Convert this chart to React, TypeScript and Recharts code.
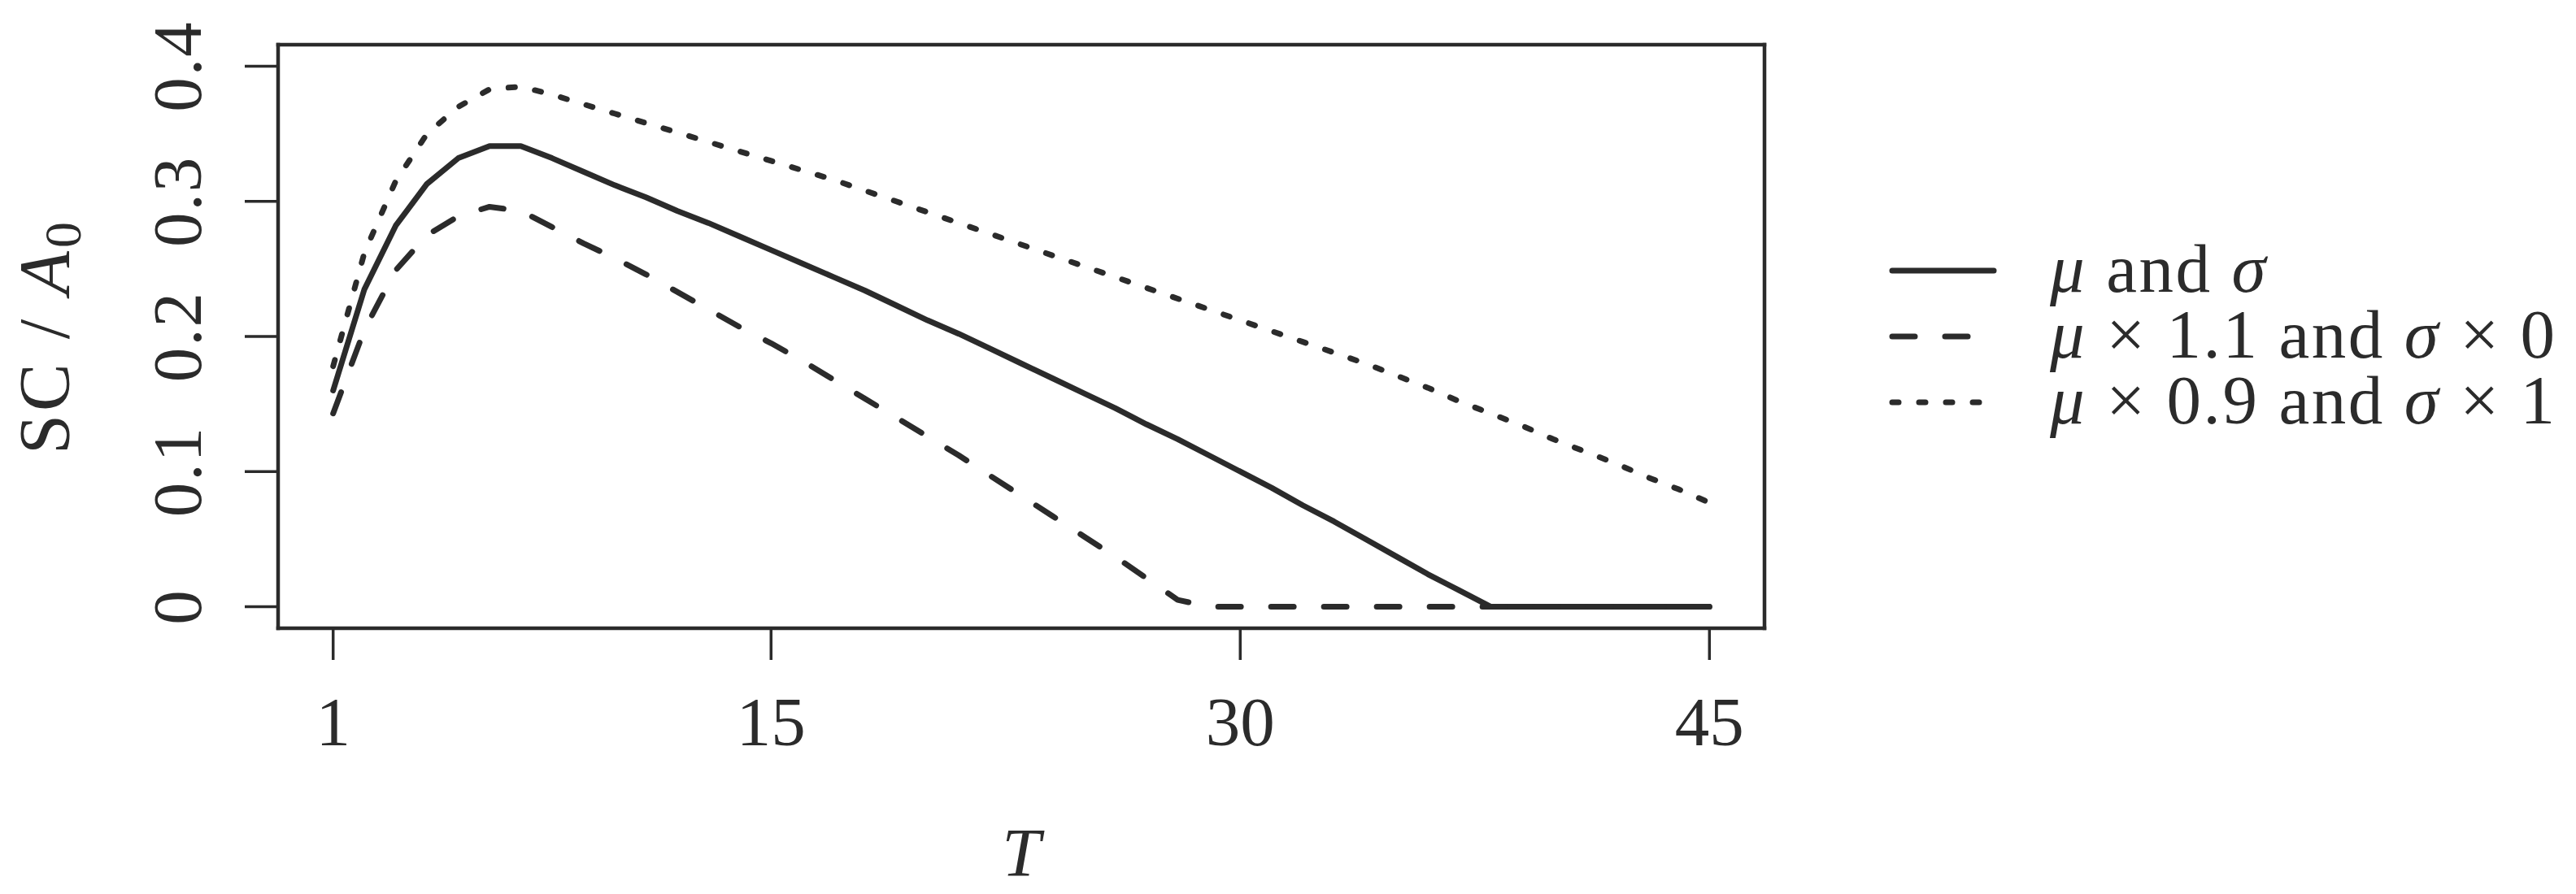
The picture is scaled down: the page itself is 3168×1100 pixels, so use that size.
import React from "react";
import { LineChart, Line, XAxis, YAxis, Legend } from "recharts";

const INK = "#2b2b2b";
const FONT = "'Liberation Serif', 'DejaVu Serif', serif";

// horizon T
const T = [
  1, 2, 3, 4, 5, 6, 7, 8, 9, 10, 11, 12, 13, 14, 15, 16, 17, 18, 19, 20, 21, 22,
  23, 24, 25, 26, 27, 28, 29, 30, 31, 32, 33, 34, 35, 36, 37, 38, 39, 40, 41, 42,
  43, 44, 45,
];

// SC / A0
const SC_BASE = [
  0.16, 0.235, 0.282, 0.313, 0.332, 0.341, 0.341, 0.332, 0.322, 0.312, 0.303,
  0.293, 0.284, 0.274, 0.264, 0.254, 0.244, 0.234, 0.223, 0.212, 0.202, 0.191,
  0.18, 0.169, 0.158, 0.147, 0.135, 0.124, 0.112, 0.1, 0.088, 0.075, 0.063,
  0.05, 0.037, 0.024, 0.012, 0, 0, 0, 0, 0, 0, 0, 0,
];
const SC_MU_HI = [
  0.143, 0.205, 0.249, 0.275, 0.289, 0.296, 0.293, 0.281, 0.269, 0.258, 0.246,
  0.233, 0.22, 0.207, 0.195, 0.182, 0.168, 0.154, 0.14, 0.126, 0.112, 0.097,
  0.082, 0.067, 0.052, 0.037, 0.021, 0.005, 0, 0, 0, 0, 0, 0, 0, 0, 0, 0, 0, 0,
  0, 0, 0, 0, 0,
];
const SC_MU_LO = [
  0.178, 0.262, 0.315, 0.35, 0.37, 0.383, 0.385, 0.379, 0.372, 0.365, 0.358,
  0.351, 0.344, 0.337, 0.33, 0.323, 0.316, 0.308, 0.3, 0.292, 0.284, 0.276,
  0.268, 0.26, 0.252, 0.244, 0.236, 0.228, 0.22, 0.212, 0.204, 0.196, 0.188,
  0.18, 0.171, 0.162, 0.152, 0.143, 0.134, 0.124, 0.115, 0.106, 0.096, 0.087,
  0.077,
];

const X_TICKS = [1, 15, 30, 45];
const Y_TICKS = [0, 0.1, 0.2, 0.3, 0.4];
const LABELS = ["μ and σ", "μ × 1.1 and σ × 0", "μ × 0.9 and σ × 1"];

const rows = T.map((t, i) => ({
  T: t,
  base: SC_BASE[i],
  muHi: SC_MU_HI[i],
  muLo: SC_MU_LO[i],
}));

// greek letters in italic, the rest upright
function mathSpans(label: string) {
  return label
    .split(/([μσ])/)
    .filter(Boolean)
    .map((part, i) =>
      /[μσ]/.test(part) ? (
        <tspan key={i} fontStyle="italic">
          {part}
        </tspan>
      ) : (
        <tspan key={i}>{part}</tspan>
      )
    );
}

function XTick({ x, y, payload }: any) {
  return (
    <text x={x} y={y + 105} textAnchor="middle" fontSize={85} fontFamily={FONT} fill={INK}>
      {payload.value}
    </text>
  );
}

function YTick({ x, y, payload }: any) {
  const tx = x - 54;
  return (
    <text
      x={tx}
      y={y}
      transform={`rotate(-90, ${tx}, ${y})`}
      textAnchor="middle"
      fontSize={85}
      letterSpacing={2}
      fontFamily={FONT}
      fill={INK}
    >
      {payload.value === 0 ? "0" : payload.value.toFixed(1)}
    </text>
  );
}

function XLabel({ viewBox }: any) {
  const cx = viewBox.x + viewBox.width / 2;
  return (
    <text x={cx} y={viewBox.y + 305} textAnchor="middle" fontSize={85} fontStyle="italic" fontFamily={FONT} fill={INK}>
      T
    </text>
  );
}

function YLabel({ viewBox }: any) {
  const tx = viewBox.x + 84;
  const cy = viewBox.y + viewBox.height / 2;
  return (
    <text
      x={tx}
      y={cy}
      transform={`rotate(-90, ${tx}, ${cy})`}
      textAnchor="middle"
      fontSize={88}
      letterSpacing={4}
      fontFamily={FONT}
      fill={INK}
      style={{ whiteSpace: "pre" }}
    >
      <tspan>SC / </tspan>
      <tspan fontStyle="italic">A</tspan>
      <tspan fontSize={64} dy={15}>
        0
      </tspan>
    </text>
  );
}

function LegendBox({ payload }: any) {
  const items = [...(payload ?? [])].sort(
    (a: any, b: any) => LABELS.indexOf(a.value) - LABELS.indexOf(b.value)
  );
  return (
    <svg width={868} height={300}>
      {items.map((item: any, i: number) => {
        const cy = 53 + i * 81;
        return (
          <g key={i}>
            <line
              x1={27}
              x2={152}
              y1={cy}
              y2={cy}
              stroke={item.color}
              strokeWidth={7}
              strokeLinecap="round"
              strokeDasharray={item.payload?.strokeDasharray}
            />
            <text
              x={221}
              y={cy + 26}
              fontSize={85}
              letterSpacing={2.6}
              fontFamily={FONT}
              fill={INK}
              style={{ whiteSpace: "pre" }}
            >
              {mathSpans(String(item.value))}
            </text>
          </g>
        );
      })}
    </svg>
  );
}

export default function App() {
  const frame = { stroke: INK, strokeWidth: 4.5, strokeLinecap: "square" as const };
  const tickLine = { stroke: INK, strokeWidth: 3.5 };
  return (
    <div style={{ position: "absolute", left: 0, top: 0, width: 3168, height: 1100, background: "#fff" }}>
      <LineChart width={3168} height={1100} data={rows} margin={{ top: 54, right: 997, bottom: 0, left: 0 }}>
        <XAxis
          dataKey="T"
          type="number"
          domain={[-0.76, 46.76]}
          allowDataOverflow
          ticks={X_TICKS}
          interval={0}
          height={327}
          tickSize={39}
          tickMargin={0}
          axisLine={frame}
          tickLine={tickLine}
          tick={<XTick />}
          label={<XLabel />}
        />
        <XAxis
          xAxisId="top"
          orientation="top"
          dataKey="T"
          type="number"
          domain={[-0.76, 46.76]}
          allowDataOverflow
          height={1}
          tick={false}
          tickLine={false}
          axisLine={frame}
        />
        <YAxis
          type="number"
          domain={[-0.016, 0.416]}
          allowDataOverflow
          ticks={Y_TICKS}
          interval={0}
          width={342}
          tickSize={41}
          tickMargin={0}
          axisLine={frame}
          tickLine={tickLine}
          tick={<YTick />}
          label={<YLabel />}
        />
        <YAxis
          yAxisId="right"
          orientation="right"
          type="number"
          domain={[-0.016, 0.416]}
          allowDataOverflow
          width={1}
          tick={false}
          tickLine={false}
          axisLine={frame}
        />
        <Line
          dataKey="base"
          name={LABELS[0]}
          type="linear"
          stroke={INK}
          strokeWidth={7}
          strokeLinecap="round"
          strokeLinejoin="round"
          dot={false}
          isAnimationActive={false}
        />
        <Line
          dataKey="muHi"
          name={LABELS[1]}
          type="linear"
          stroke={INK}
          strokeWidth={7}
          strokeDasharray="28 37"
          strokeLinecap="round"
          strokeLinejoin="round"
          dot={false}
          isAnimationActive={false}
        />
        <Line
          dataKey="muLo"
          name={LABELS[2]}
          type="linear"
          stroke={INK}
          strokeWidth={7}
          strokeDasharray="8 25"
          strokeLinecap="round"
          strokeLinejoin="round"
          dot={false}
          isAnimationActive={false}
        />
        <Legend
          layout="horizontal"
          verticalAlign="middle"
          align="center"
          wrapperStyle={{ left: 2300, top: 280, width: 868 }}
          content={<LegendBox />}
        />
      </LineChart>
    </div>
  );
}
